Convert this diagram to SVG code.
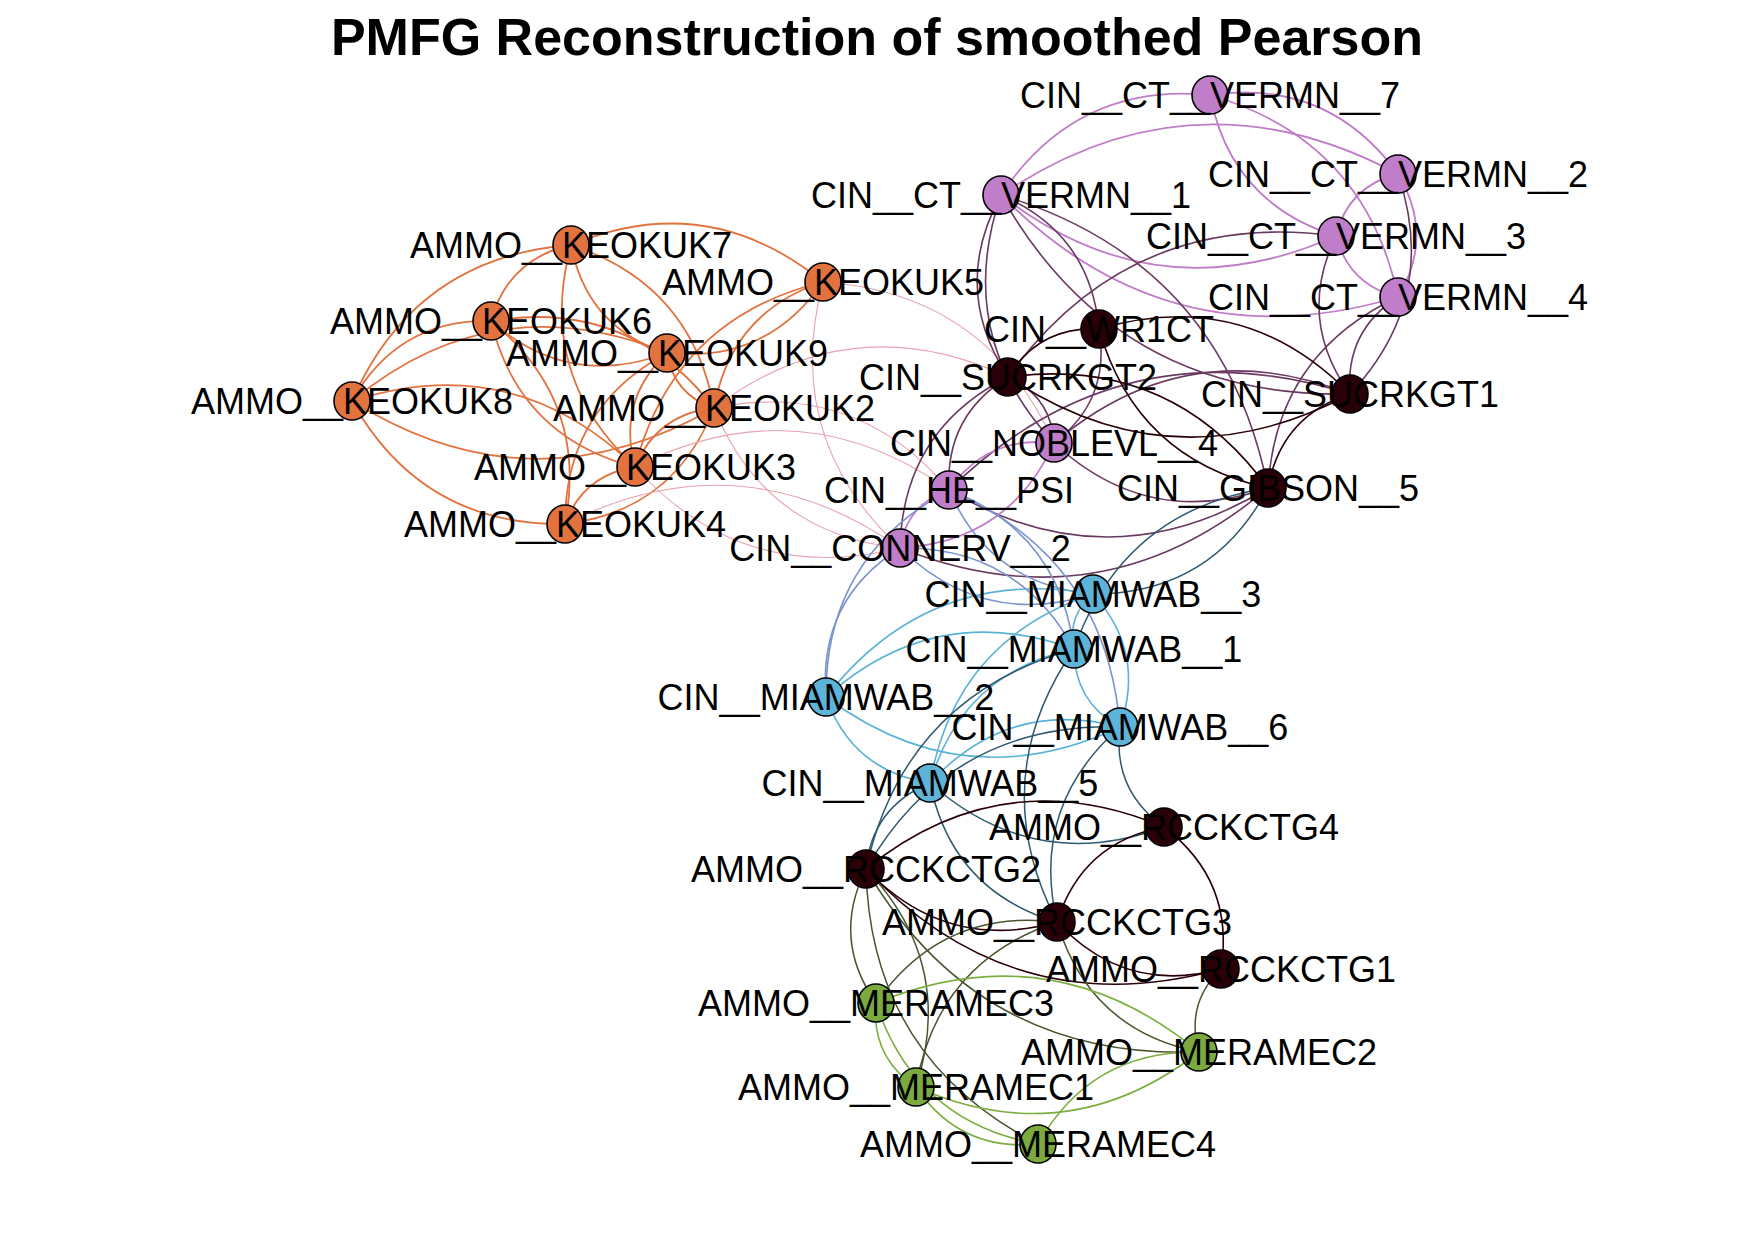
<svg xmlns="http://www.w3.org/2000/svg" width="1754" height="1239" viewBox="0 0 1754 1239">
<style>
.e{fill:none;stroke-width:1.8}
.o{stroke:#E2733F}
.p{stroke:#E8A3B0;stroke-width:1.1}
.v{stroke:#C07CC9}
.vd{stroke:#6B3A62;stroke-width:1.6}
.d{stroke:#2A0008;stroke-width:1.6}
.vb{stroke:#7B93CF;stroke-width:1.6}
.db{stroke:#2E5A70;stroke-width:1.5}
.b{stroke:#5AB3D7;stroke-width:1.6}
.dg{stroke:#4A5530;stroke-width:1.5}
.g{stroke:#7DAD3F;stroke-width:1.6}
.n ellipse{stroke:#000;stroke-width:1.6}
.no ellipse{fill:#E2733F}
.nv ellipse{fill:#BF7DCA}
.nd ellipse{fill:#2A0008}
.nb ellipse{fill:#5DB4D8}
.ng ellipse{fill:#7CAA3E}
.n text{font-family:"Liberation Sans",Arial,sans-serif;font-size:36px;fill:#000;text-anchor:middle}
.t{font-family:"Liberation Sans",Arial,sans-serif;font-size:52px;font-weight:bold;fill:#000;text-anchor:middle}
</style>
<rect width="1754" height="1239" fill="#fff"/>
<text class="t" x="877" y="55">PMFG Reconstruction of smoothed Pearson</text>
<g id="connectors" class="e">
<path class="o" d="M571,245 Q415,257 352,401"/>
<path class="o" d="M352,401 Q422,526 565,524"/>
<path class="o" d="M823,282 Q708,188 571,245"/>
<path class="o" d="M571,245 Q508,259 491,321"/>
<path class="o" d="M571,245 Q587,328 667,353"/>
<path class="o" d="M714,408 Q691,284 571,245"/>
<path class="o" d="M571,245 Q536,375 635,467"/>
<path class="o" d="M491,321 Q398,319 352,401"/>
<path class="o" d="M491,321 Q569,390 667,353"/>
<path class="o" d="M714,408 Q629,298 491,321"/>
<path class="o" d="M491,321 Q519,437 635,467"/>
<path class="o" d="M565,524 Q589,400 491,321"/>
<path class="o" d="M667,353 Q495,283 352,401"/>
<path class="o" d="M352,401 Q531,513 714,408"/>
<path class="o" d="M635,467 Q513,349 352,401"/>
<path class="o" d="M667,353 Q674,395 714,408"/>
<path class="o" d="M667,353 Q617,400 635,467"/>
<path class="o" d="M667,353 Q766,364 823,282"/>
<path class="o" d="M667,353 Q565,408 565,524"/>
<path class="o" d="M714,408 Q657,414 635,467"/>
<path class="o" d="M823,282 Q731,312 714,408"/>
<path class="o" d="M565,524 Q674,511 714,408"/>
<path class="o" d="M635,467 Q583,475 565,524"/>
<path class="o" d="M823,282 Q674,318 635,467"/>
<path class="p" d="M1054,443 Q987,293 823,282"/>
<path class="p" d="M823,282 Q782,438 900,548"/>
<path class="p" d="M1008,377 Q852,304 714,408"/>
<path class="p" d="M949,490 Q856,379 714,408"/>
<path class="p" d="M714,408 Q765,534 900,548"/>
<path class="p" d="M949,490 Q799,384 635,467"/>
<path class="p" d="M635,467 Q743,587 900,548"/>
<path class="p" d="M900,548 Q740,436 565,524"/>
<path class="v" d="M1210,95 Q1076,82 1001,195"/>
<path class="v" d="M1398,174 Q1328,78 1210,95"/>
<path class="v" d="M1210,95 Q1231,203 1336,236"/>
<path class="v" d="M1398,297 Q1365,140 1210,95"/>
<path class="v" d="M1398,174 Q1193,65 1001,195"/>
<path class="v" d="M1001,195 Q1156,316 1336,236"/>
<path class="v" d="M1001,195 Q1169,365 1398,297"/>
<path class="v" d="M1398,174 Q1348,186 1336,236"/>
<path class="v" d="M1398,297 Q1435,236 1398,174"/>
<path class="v" d="M1336,236 Q1349,285 1398,297"/>
<path class="vd" d="M1001,195 Q950,288 1008,377"/>
<path class="vd" d="M1099,329 Q1090,233 1001,195"/>
<path class="vd" d="M1001,195 Q1116,399 1350,394"/>
<path class="vd" d="M1268,488 Q1222,261 1001,195"/>
<path class="vd" d="M1001,195 Q953,335 1054,443"/>
<path class="vd" d="M1336,236 Q1130,208 1008,377"/>
<path class="vd" d="M1336,236 Q1296,319 1350,394"/>
<path class="vd" d="M1398,297 Q1345,331 1350,394"/>
<path class="vd" d="M1350,394 Q1440,298 1398,174"/>
<path class="vd" d="M1398,297 Q1276,354 1268,488"/>
<path class="vd" d="M1054,443 Q1051,396 1008,377"/>
<path class="vd" d="M1054,443 Q1111,400 1099,329"/>
<path class="vd" d="M1350,394 Q1187,330 1054,443"/>
<path class="vd" d="M1054,443 Q1148,530 1268,488"/>
<path class="vd" d="M1008,377 Q945,416 949,490"/>
<path class="vd" d="M949,490 Q1109,585 1268,488"/>
<path class="vd" d="M900,548 Q1102,628 1268,488"/>
<path class="vd" d="M1350,394 Q1121,322 949,490"/>
<path class="vd" d="M1008,377 Q903,430 900,548"/>
<path class="d" d="M1099,329 Q1039,326 1008,377"/>
<path class="d" d="M1350,394 Q1244,286 1099,329"/>
<path class="d" d="M1099,329 Q1136,459 1268,488"/>
<path class="d" d="M1008,377 Q1174,488 1350,394"/>
<path class="d" d="M1268,488 Q1171,355 1008,377"/>
<path class="d" d="M1350,394 Q1281,416 1268,488"/>
<path class="v" d="M1054,443 Q987,435 949,490"/>
<path class="v" d="M949,490 Q907,504 900,548"/>
<path class="v" d="M900,548 Q1009,542 1054,443"/>
<path class="vb" d="M949,490 Q990,585 1093,594"/>
<path class="vb" d="M1074,649 Q1059,532 949,490"/>
<path class="vb" d="M900,548 Q983,629 1093,594"/>
<path class="vb" d="M1074,649 Q1017,546 900,548"/>
<path class="vb" d="M900,548 Q818,600 826,697"/>
<path class="vb" d="M949,490 Q825,557 826,697"/>
<path class="vb" d="M1120,727 Q1106,557 949,490"/>
<path class="db" d="M1093,594 Q1212,594 1268,488"/>
<path class="db" d="M1268,488 Q1123,510 1074,649"/>
<path class="b" d="M1093,594 Q1067,616 1074,649"/>
<path class="b" d="M1093,594 Q929,565 826,697"/>
<path class="b" d="M1120,727 Q1146,652 1093,594"/>
<path class="b" d="M1093,594 Q955,640 930,783"/>
<path class="b" d="M1074,649 Q936,599 826,697"/>
<path class="b" d="M826,697 Q964,800 1120,727"/>
<path class="b" d="M1074,649 Q1074,702 1120,727"/>
<path class="b" d="M1074,649 Q962,673 930,783"/>
<path class="b" d="M826,697 Q852,771 930,783"/>
<path class="b" d="M1120,727 Q1008,698 930,783"/>
<path class="db" d="M930,783 Q872,807 866,869"/>
<path class="db" d="M930,783 Q952,891 1057,922"/>
<path class="db" d="M930,783 Q1034,875 1164,827"/>
<path class="db" d="M1120,727 Q950,722 866,869"/>
<path class="db" d="M1120,727 Q1112,790 1164,827"/>
<path class="db" d="M1120,727 Q1030,806 1057,922"/>
<path class="db" d="M1074,649 Q904,697 866,869"/>
<path class="db" d="M1074,649 Q984,780 1057,922"/>
<path class="d" d="M1164,827 Q1002,759 866,869"/>
<path class="d" d="M1164,827 Q1082,842 1057,922"/>
<path class="d" d="M1221,969 Q1235,881 1164,827"/>
<path class="d" d="M866,869 Q946,953 1057,922"/>
<path class="d" d="M866,869 Q1014,1026 1221,969"/>
<path class="d" d="M1057,922 Q1125,995 1221,969"/>
<path class="dg" d="M866,869 Q831,939 876,1003"/>
<path class="dg" d="M916,1087 Q956,963 866,869"/>
<path class="dg" d="M866,869 Q870,1058 1038,1144"/>
<path class="dg" d="M866,869 Q978,1060 1199,1052"/>
<path class="dg" d="M1057,922 Q942,908 876,1003"/>
<path class="dg" d="M1057,922 Q1089,1030 1199,1052"/>
<path class="dg" d="M1221,969 Q1185,1004 1199,1052"/>
<path class="dg" d="M1057,922 Q937,962 916,1087"/>
<path class="g" d="M876,1003 Q871,1057 916,1087"/>
<path class="g" d="M1199,1052 Q1052,931 876,1003"/>
<path class="g" d="M876,1003 Q915,1122 1038,1144"/>
<path class="g" d="M916,1087 Q1068,1154 1199,1052"/>
<path class="g" d="M916,1087 Q960,1152 1038,1144"/>
<path class="g" d="M1199,1052 Q1091,1050 1038,1144"/>
</g>
<g id="nodes">
<g id="AMMO__KEOKUK7" class="n no"><ellipse cx="571" cy="245" rx="18" ry="19"/></g>
<g id="AMMO__KEOKUK5" class="n no"><ellipse cx="823" cy="282" rx="18" ry="19"/></g>
<g id="AMMO__KEOKUK6" class="n no"><ellipse cx="491" cy="321" rx="18" ry="19"/></g>
<g id="AMMO__KEOKUK9" class="n no"><ellipse cx="667" cy="353" rx="18" ry="19"/></g>
<g id="AMMO__KEOKUK8" class="n no"><ellipse cx="352" cy="401" rx="18" ry="19"/></g>
<g id="AMMO__KEOKUK2" class="n no"><ellipse cx="714" cy="408" rx="18" ry="19"/></g>
<g id="AMMO__KEOKUK3" class="n no"><ellipse cx="635" cy="467" rx="18" ry="19"/></g>
<g id="AMMO__KEOKUK4" class="n no"><ellipse cx="565" cy="524" rx="18" ry="19"/></g>
<g id="CIN__CT__VERMN__7" class="n nv"><ellipse cx="1210" cy="95" rx="18" ry="19"/></g>
<g id="CIN__CT__VERMN__1" class="n nv"><ellipse cx="1001" cy="195" rx="18" ry="19"/></g>
<g id="CIN__CT__VERMN__2" class="n nv"><ellipse cx="1398" cy="174" rx="18" ry="19"/></g>
<g id="CIN__CT__VERMN__3" class="n nv"><ellipse cx="1336" cy="236" rx="18" ry="19"/></g>
<g id="CIN__CT__VERMN__4" class="n nv"><ellipse cx="1398" cy="297" rx="18" ry="19"/></g>
<g id="CIN__WR1CT" class="n nd"><ellipse cx="1099" cy="329" rx="18" ry="19"/></g>
<g id="CIN__SUCRKGT2" class="n nd"><ellipse cx="1008" cy="377" rx="18" ry="19"/></g>
<g id="CIN__SUCRKGT1" class="n nd"><ellipse cx="1350" cy="394" rx="18" ry="19"/></g>
<g id="CIN__NOBLEVL__4" class="n nv"><ellipse cx="1054" cy="443" rx="18" ry="19"/></g>
<g id="CIN__GIBSON__5" class="n nd"><ellipse cx="1268" cy="488" rx="18" ry="19"/></g>
<g id="CIN__HE__PSI" class="n nv"><ellipse cx="949" cy="490" rx="18" ry="19"/></g>
<g id="CIN__CONNERV__2" class="n nv"><ellipse cx="900" cy="548" rx="18" ry="19"/></g>
<g id="CIN__MIAMWAB__3" class="n nb"><ellipse cx="1093" cy="594" rx="18" ry="19"/></g>
<g id="CIN__MIAMWAB__1" class="n nb"><ellipse cx="1074" cy="649" rx="18" ry="19"/></g>
<g id="CIN__MIAMWAB__2" class="n nb"><ellipse cx="826" cy="697" rx="18" ry="19"/></g>
<g id="CIN__MIAMWAB__6" class="n nb"><ellipse cx="1120" cy="727" rx="18" ry="19"/></g>
<g id="CIN__MIAMWAB__5" class="n nb"><ellipse cx="930" cy="783" rx="18" ry="19"/></g>
<g id="AMMO__RCCKCTG4" class="n nd"><ellipse cx="1164" cy="827" rx="18" ry="19"/></g>
<g id="AMMO__RCCKCTG2" class="n nd"><ellipse cx="866" cy="869" rx="18" ry="19"/></g>
<g id="AMMO__RCCKCTG3" class="n nd"><ellipse cx="1057" cy="922" rx="18" ry="19"/></g>
<g id="AMMO__RCCKCTG1" class="n nd"><ellipse cx="1221" cy="969" rx="18" ry="19"/></g>
<g id="AMMO__MERAMEC3" class="n ng"><ellipse cx="876" cy="1003" rx="18" ry="19"/></g>
<g id="AMMO__MERAMEC2" class="n ng"><ellipse cx="1199" cy="1052" rx="18" ry="19"/></g>
<g id="AMMO__MERAMEC1" class="n ng"><ellipse cx="916" cy="1087" rx="18" ry="19"/></g>
<g id="AMMO__MERAMEC4" class="n ng"><ellipse cx="1038" cy="1144" rx="18" ry="19"/></g>
</g>
<g id="labels" class="n">
<text x="571" y="258">AMMO__KEOKUK7</text>
<text x="823" y="295">AMMO__KEOKUK5</text>
<text x="491" y="334">AMMO__KEOKUK6</text>
<text x="667" y="366">AMMO__KEOKUK9</text>
<text x="352" y="414">AMMO__KEOKUK8</text>
<text x="714" y="421">AMMO__KEOKUK2</text>
<text x="635" y="480">AMMO__KEOKUK3</text>
<text x="565" y="537">AMMO__KEOKUK4</text>
<text x="1210" y="108">CIN__CT__VERMN__7</text>
<text x="1001" y="208">CIN__CT__VERMN__1</text>
<text x="1398" y="187">CIN__CT__VERMN__2</text>
<text x="1336" y="249">CIN__CT__VERMN__3</text>
<text x="1398" y="310">CIN__CT__VERMN__4</text>
<text x="1099" y="342">CIN__WR1CT</text>
<text x="1008" y="390">CIN__SUCRKGT2</text>
<text x="1350" y="407">CIN__SUCRKGT1</text>
<text x="1054" y="456">CIN__NOBLEVL__4</text>
<text x="1268" y="501">CIN__GIBSON__5</text>
<text x="949" y="503">CIN__HE__PSI</text>
<text x="900" y="561">CIN__CONNERV__2</text>
<text x="1093" y="607">CIN__MIAMWAB__3</text>
<text x="1074" y="662">CIN__MIAMWAB__1</text>
<text x="826" y="710">CIN__MIAMWAB__2</text>
<text x="1120" y="740">CIN__MIAMWAB__6</text>
<text x="930" y="796">CIN__MIAMWAB__5</text>
<text x="1164" y="840">AMMO__RCCKCTG4</text>
<text x="866" y="882">AMMO__RCCKCTG2</text>
<text x="1057" y="935">AMMO__RCCKCTG3</text>
<text x="1221" y="982">AMMO__RCCKCTG1</text>
<text x="876" y="1016">AMMO__MERAMEC3</text>
<text x="1199" y="1065">AMMO__MERAMEC2</text>
<text x="916" y="1100">AMMO__MERAMEC1</text>
<text x="1038" y="1157">AMMO__MERAMEC4</text>
</g>
</svg>
